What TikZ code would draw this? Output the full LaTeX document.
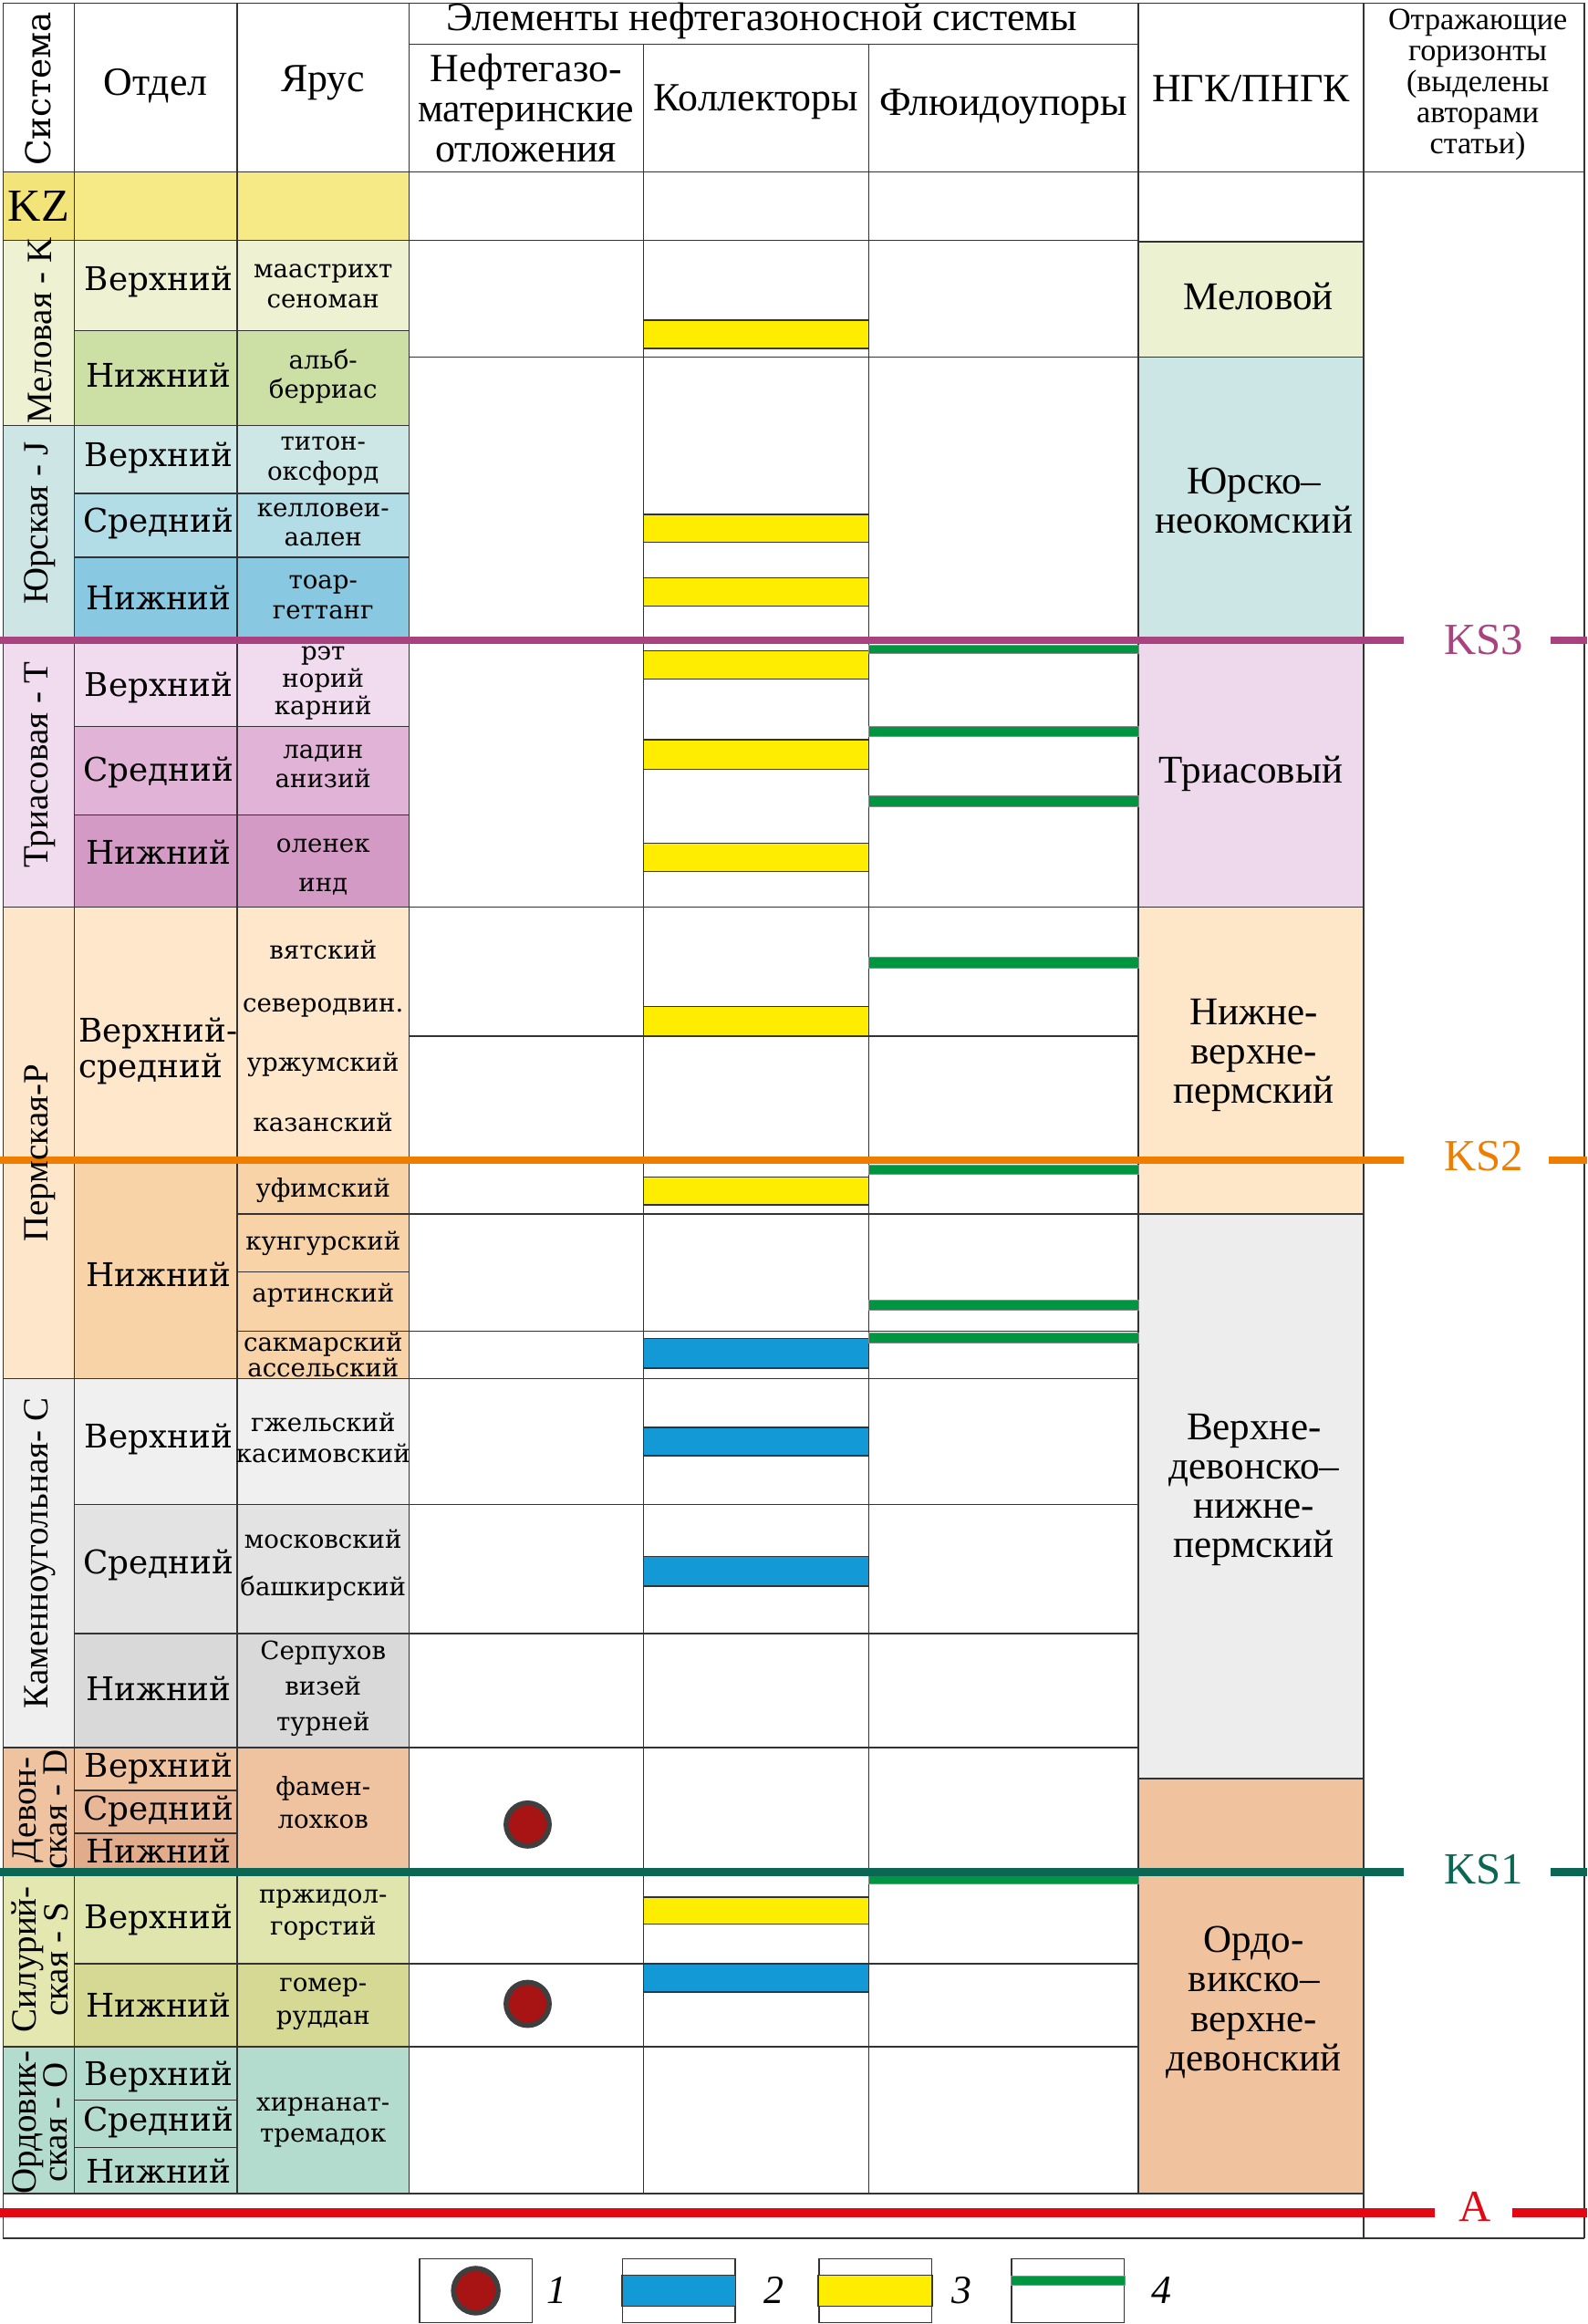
\documentclass[tikz,border=0pt]{standalone}
\usepackage{fontspec}
\setmainfont{Liberation Serif}
\newfontfamily\stagefont{DejaVu Serif}
\usetikzlibrary{positioning}

\definecolor{linegray}{HTML}{333333}
\definecolor{kzsys}{HTML}{F3E47A}
\definecolor{kzdiv}{HTML}{F6EA86}
\definecolor{ksys}{HTML}{EEF2D3}
\definecolor{kup}{HTML}{EEF1D2}
\definecolor{klow}{HTML}{CCDFA5}
\definecolor{jsys}{HTML}{CDE6E5}
\definecolor{jup}{HTML}{CDE7E7}
\definecolor{jmid}{HTML}{B2DCE6}
\definecolor{jlow}{HTML}{89C8E1}
\definecolor{tsys}{HTML}{F1DCEF}
\definecolor{tup}{HTML}{F1DBEF}
\definecolor{tmid}{HTML}{E1B3D7}
\definecolor{tlow}{HTML}{D49AC6}
\definecolor{psys}{HTML}{FDE6CA}
\definecolor{pup}{HTML}{FEE7CB}
\definecolor{plow}{HTML}{F8D3A7}
\definecolor{csys}{HTML}{EEEFEE}
\definecolor{cup}{HTML}{EFF0EF}
\definecolor{cmid}{HTML}{E3E3E3}
\definecolor{clow}{HTML}{D9D9D9}
\definecolor{dsys}{HTML}{EFC3A0}
\definecolor{dmid}{HTML}{E8B797}
\definecolor{dlow}{HTML}{E0AC8B}
\definecolor{ssys}{HTML}{E5E7B1}
\definecolor{sup}{HTML}{E0E5AD}
\definecolor{slow}{HTML}{D5D994}
\definecolor{osys}{HTML}{B4DCCE}
\definecolor{ngkK}{HTML}{EBF1D1}
\definecolor{ngkJ}{HTML}{CCE5E5}
\definecolor{ngkT}{HTML}{EED8EC}
\definecolor{ngkP}{HTML}{FEE6C9}
\definecolor{ngkC}{HTML}{ECEDEC}
\definecolor{ngkO}{HTML}{F0C39E}
\definecolor{resyellow}{HTML}{FFED00}
\definecolor{resblue}{HTML}{1399D6}
\definecolor{sealgreen}{HTML}{009641}
\definecolor{ksthree}{HTML}{A9437F}
\definecolor{kstwo}{HTML}{EE7D00}
\definecolor{ksone}{HTML}{0B6654}
\definecolor{hora}{HTML}{E30613}
\definecolor{srcred}{HTML}{A81414}
\definecolor{dotgray}{HTML}{3F3F3F}

\tikzset{
    rule/.style = {
        draw=linegray,
        line width=0.9pt
    },
    cell/.style = {
        draw=linegray,
        line width=0.9pt
    },
    reservoir/.style = {
        draw=linegray,
        line width=0.9pt,
        fill=resyellow
    },
    carbonate/.style = {
        draw=linegray,
        line width=0.9pt,
        fill=resblue
    },
    seal/.style = {
        draw=black!45,
        line width=0.4pt,
        fill=sealgreen
    },
    source/.style = {
        shape=circle,
        draw=dotgray,
        fill=srcred,
        line width=3.5pt,
        minimum size=29pt,
        inner sep=0pt
    },
    headtext/.style = {
        font=\fontsize{27}{27}\selectfont,
        align=center,
        inner sep=0pt
    },
    smalltext/.style = {
        font=\fontsize{21}{21}\selectfont,
        align=center,
        inner sep=0pt
    },
    systext/.style = {
        rotate=90,
        font=\fontsize{24}{21}\selectfont,
        align=center,
        inner sep=0pt
    },
    divtext/.style = {
        font=\stagefont\fontsize{22}{24}\selectfont,
        inner sep=0pt
    },
    stagetext/.style = {
        font=\stagefont\fontsize{17}{20}\selectfont,
        align=center,
        inner sep=0pt
    },
    ngktext/.style = {
        font=\fontsize{26.5}{26.5}\selectfont,
        align=center,
        inner sep=0pt
    },
    horizon/.style = {
        font=\fontsize{30}{30}\selectfont,
        inner sep=0pt
    },
    legbox/.style = {
        draw=linegray,
        line width=0.9pt,
        minimum width=76pt,
        minimum height=43pt,
        inner sep=0pt
    },
    legnum/.style = {
        font=\itshape\fontsize{27}{27}\selectfont,
        inner sep=0pt
    }
}

\begin{document}
\begin{tikzpicture}[x=1pt, y=-1pt]
    \useasboundingbox (0,0) rectangle (1071,1568);

    % header
    \draw[rule] (2,2) rectangle (1069,116);
    \draw[rule] (276,30) -- (768,30);
    \draw[rule] (2,2) -- (2,1510);
    \draw[rule] (50,2) -- (50,116);
    \draw[rule] (160,2) -- (160,116);
    \draw[rule] (276,2) -- (276,1480);
    \draw[rule] (434,30) -- (434,1480);
    \draw[rule] (586,30) -- (586,1480);
    \draw[rule] (768,2) -- (768,1480);
    \draw[rule] (920,2) -- (920,1510);
    \draw[rule] (1069,2) -- (1069,1510);

    % stratigraphy columns
    \path[cell, fill=kzsys] (2,116) rectangle (50,162);
    \path[cell, fill=kzdiv] (50,116) rectangle (160,162);
    \path[cell, fill=kzdiv] (160,116) rectangle (276,162);

    \path[cell, fill=ksys] (2,162) rectangle (50,287);
    \path[cell, fill=kup] (50,162) rectangle (160,223);
    \path[cell, fill=kup] (160,162) rectangle (276,223);
    \path[cell, fill=klow] (50,223) rectangle (160,287);
    \path[cell, fill=klow] (160,223) rectangle (276,287);

    \path[cell, fill=jsys] (2,287) rectangle (50,432);
    \path[cell, fill=jup] (50,287) rectangle (160,333);
    \path[cell, fill=jup] (160,287) rectangle (276,333);
    \path[cell, fill=jmid] (50,333) rectangle (160,376);
    \path[cell, fill=jmid] (160,333) rectangle (276,376);
    \path[cell, fill=jlow] (50,376) rectangle (160,432);
    \path[cell, fill=jlow] (160,376) rectangle (276,432);

    \path[cell, fill=tsys] (2,432) rectangle (50,612);
    \path[cell, fill=tup] (50,432) rectangle (160,490);
    \path[cell, fill=tup] (160,432) rectangle (276,490);
    \path[cell, fill=tmid] (50,490) rectangle (160,550);
    \path[cell, fill=tmid] (160,490) rectangle (276,550);
    \path[cell, fill=tlow] (50,550) rectangle (160,612);
    \path[cell, fill=tlow] (160,550) rectangle (276,612);

    \path[cell, fill=psys] (2,612) rectangle (50,930);
    \path[cell, fill=pup] (50,612) rectangle (160,785);
    \path[cell, fill=pup] (160,612) rectangle (276,785);
    \path[cell, fill=plow] (50,785) rectangle (160,930);
    \path[cell, fill=plow] (160,785) rectangle (276,819);
    \path[cell, fill=plow] (160,819) rectangle (276,858);
    \path[cell, fill=plow] (160,858) rectangle (276,898);
    \path[cell, fill=plow] (160,898) rectangle (276,930);

    \path[cell, fill=csys] (2,930) rectangle (50,1179);
    \path[cell, fill=cup] (50,930) rectangle (160,1015);
    \path[cell, fill=cup] (160,930) rectangle (276,1015);
    \path[cell, fill=cmid] (50,1015) rectangle (160,1102);
    \path[cell, fill=cmid] (160,1015) rectangle (276,1102);
    \path[cell, fill=clow] (50,1102) rectangle (160,1179);
    \path[cell, fill=clow] (160,1102) rectangle (276,1179);

    \path[cell, fill=dsys] (2,1179) rectangle (50,1263);
    \path[cell, fill=dsys] (50,1179) rectangle (160,1208);
    \path[cell, fill=dmid] (50,1208) rectangle (160,1237);
    \path[cell, fill=dlow] (50,1237) rectangle (160,1263);
    \path[cell, fill=dsys] (160,1179) rectangle (276,1263);

    \path[cell, fill=ssys] (2,1263) rectangle (50,1381);
    \path[cell, fill=sup] (50,1263) rectangle (160,1325);
    \path[cell, fill=sup] (160,1263) rectangle (276,1325);
    \path[cell, fill=slow] (50,1325) rectangle (160,1381);
    \path[cell, fill=slow] (160,1325) rectangle (276,1381);

    \path[cell, fill=osys] (2,1381) rectangle (50,1480);
    \path[cell, fill=osys] (50,1381) rectangle (160,1417);
    \path[cell, fill=osys] (50,1417) rectangle (160,1449);
    \path[cell, fill=osys] (50,1449) rectangle (160,1480);
    \path[cell, fill=osys] (160,1381) rectangle (276,1480);

    % petroleum system columns
    \draw[rule] (276,162) -- (768,162);
    \draw[rule] (276,241) -- (768,241);
    \draw[rule] (276,612) -- (768,612);
    \draw[rule] (276,699) -- (768,699);
    \draw[rule] (276,819) -- (768,819);
    \draw[rule] (276,898) -- (768,898);
    \draw[rule] (276,930) -- (768,930);
    \draw[rule] (276,1015) -- (768,1015);
    \draw[rule] (276,1102) -- (768,1102);
    \draw[rule] (276,1179) -- (768,1179);
    \draw[rule] (276,1325) -- (768,1325);
    \draw[rule] (276,1381) -- (768,1381);
    \draw[rule] (2,1480) -- (920,1480);
    \draw[rule] (2,1510) -- (1069,1510);

    \path[cell] (768,116) rectangle (920,163);
    \path[cell, fill=ngkK] (768,163) rectangle (920,241);
    \path[cell, fill=ngkJ] (768,241) rectangle (920,432);
    \path[cell, fill=ngkT] (768,432) rectangle (920,612);
    \path[cell, fill=ngkP] (768,612) rectangle (920,819);
    \path[cell, fill=ngkC] (768,819) rectangle (920,1200);
    \path[cell, fill=ngkO] (768,1200) rectangle (920,1480);

    % reservoirs
    \path[reservoir] (434,216) rectangle (586,235);
    \path[reservoir] (434,347) rectangle (586,366);
    \path[reservoir] (434,390) rectangle (586,409);
    \path[reservoir] (434,439) rectangle (586,458);
    \path[reservoir] (434,499) rectangle (586,519);
    \path[reservoir] (434,569) rectangle (586,588);
    \path[reservoir] (434,679) rectangle (586,699);
    \path[reservoir] (434,794) rectangle (586,813);
    \path[carbonate] (434,903) rectangle (586,923);
    \path[carbonate] (434,963) rectangle (586,982);
    \path[carbonate] (434,1050) rectangle (586,1070);
    \path[reservoir] (434,1280) rectangle (586,1298);
    \path[carbonate] (434,1325) rectangle (586,1344);

    % seals
    \path[seal] (586,435) rectangle (768,441);
    \path[seal] (586,490) rectangle (768,497);
    \path[seal] (586,537) rectangle (768,544);
    \path[seal] (586,646) rectangle (768,653);
    \path[seal] (586,786) rectangle (768,792);
    \path[seal] (586,877) rectangle (768,884);
    \path[seal] (586,899) rectangle (768,906);
    \path[seal] (586,1265) rectangle (768,1271);

    % source rocks
    \node[source] (src1) at (356,1231) {};
    \node[source] (src2) at (356,1352) {};

    % reflecting horizons
    \node[horizon, text=ksthree] (ks3) at (1001,432) {KS3};
    \node[horizon, text=kstwo] (ks2) at (1001,780) {KS2};
    \node[horizon, text=ksone] (ks1) at (1001,1261) {KS1};
    \node[horizon, text=hora] (hA) at (995,1489) {A};
    \coordinate (ks3l) at (0,432);
    \coordinate (ks3r) at (1071,432);
    \coordinate (ks2l) at (0,783);
    \coordinate (ks2r) at (1071,783);
    \coordinate (ks1l) at (0,1263);
    \coordinate (ks1r) at (1071,1263);
    \coordinate (hAl) at (0,1493);
    \coordinate (hAr) at (1071,1493);
    \draw[ksthree, line width=5.5pt] (ks3l) -- ([xshift=-27pt]ks3.west |- ks3l);
    \draw[ksthree, line width=5.5pt] ([xshift=18pt]ks3.east |- ks3r) -- (ks3r);
    \draw[kstwo, line width=5pt] (ks2l) -- ([xshift=-27pt]ks2.west |- ks2l);
    \draw[kstwo, line width=5pt] ([xshift=17pt]ks2.east |- ks2r) -- (ks2r);
    \draw[ksone, line width=6pt] (ks1l) -- ([xshift=-27pt]ks1.west |- ks1l);
    \draw[ksone, line width=6pt] ([xshift=18pt]ks1.east |- ks1r) -- (ks1r);
    \draw[hora, line width=6pt] (hAl) -- ([xshift=-16pt]hA.west |- hAl);
    \draw[hora, line width=6pt] ([xshift=14pt]hA.east |- hAr) -- (hAr);

    % header texts
    \node[rotate=90, font=\stagefont\fontsize{23}{23}\selectfont, inner sep=0pt] (hsys) at (26,60) {Система};
    \node[headtext] (hdiv) at (105,58) {Отдел};
    \node[headtext] (hstage) at (218,56) {Ярус};
    \node[headtext] (helem) at (514,14) {Элементы нефтегазоносной системы};
    \node[headtext] (hsrc) at (355,73) {Нефтегазо-\\материнские\\отложения};
    \node[headtext] (hres) at (510,69) {Коллекторы};
    \node[headtext] (hseal) at (677,72) {Флюидоупоры};
    \node[headtext] (hngk) at (844,60) {НГК/ПНГК};
    \node[smalltext] (hhor) at (997,57) {Отражающие\\горизонты\\(выделены\\авторами\\статьи)};

    % systems
    \node[font=\fontsize{31}{31}\selectfont, inner sep=0pt] (sysKZ) at (26,139) {KZ};
    \node[systext] (sysK) at (27,223) {Меловая - K};
    \node[systext] (sysJ) at (27,353) {Юрская - J};
    \node[systext] (sysT) at (27,516) {Триасовая - T};
    \node[systext] (sysP) at (27,778) {Пермская-P};
    \node[systext] (sysC) at (27,1048) {Каменноугольная- C};
    \node[systext] (sysD) at (27,1221) {Девон-\\ская - D};
    \node[systext] (sysS) at (27,1322) {Силурий-\\ская - S};
    \node[systext] (sysO) at (27,1432) {Ордовик-\\ская - O};

    % divisions
    \node[divtext] (divK1) at (107,190) {Верхний};
    \node[divtext] (divK2) at (107,253) {Нижний};
    \node[divtext] (divJ1) at (107,309) {Верхний};
    \node[divtext] (divJ2) at (107,353) {Средний};
    \node[divtext] (divJ3) at (107,403) {Нижний};
    \node[divtext] (divT1) at (107,464) {Верхний};
    \node[divtext] (divT2) at (107,521) {Средний};
    \node[divtext] (divT3) at (107,575) {Нижний};
    \node[divtext, align=left, anchor=west] (divP1) at (53,709) {Верхний-\\средний};
    \node[divtext] (divP2) at (107,860) {Нижний};
    \node[divtext] (divC1) at (107,971) {Верхний};
    \node[divtext] (divC2) at (107,1056) {Средний};
    \node[divtext] (divC3) at (107,1139) {Нижний};
    \node[divtext] (divD1) at (107,1193) {Верхний};
    \node[divtext] (divD2) at (107,1222) {Средний};
    \node[divtext] (divD3) at (107,1249) {Нижний};
    \node[divtext] (divS1) at (107,1295) {Верхний};
    \node[divtext] (divS2) at (107,1353) {Нижний};
    \node[divtext] (divO1) at (107,1401) {Верхний};
    \node[divtext] (divO2) at (107,1432) {Средний};
    \node[divtext] (divO3) at (107,1465) {Нижний};

    % stages
    \node[stagetext] (stK1) at (218,193) {маастрихт\\сеноман};
    \node[stagetext] (stK2) at (218,254) {альб-\\берриас};
    \node[stagetext] (stJ1) at (218,311) {титон-\\оксфорд};
    \node[stagetext] (stJ2) at (218,354) {келловеи-\\аален};
    \node[stagetext] (stJ3) at (218,403) {тоар-\\геттанг};
    \node[stagetext, font=\stagefont\fontsize{17}{18.5}\selectfont] (stT1) at (218,461) {рэт\\норий\\карний};
    \node[stagetext] (stT2) at (218,517) {ладин\\анизий};
    \node[stagetext, font=\stagefont\fontsize{17}{26}\selectfont] (stT3) at (218,585) {оленек\\инд};
    \node[stagetext] (stP1) at (218,641) {вятский};
    \node[stagetext] (stP2) at (218,680) {северодвин.};
    \node[stagetext] (stP3) at (218,718) {уржумский};
    \node[stagetext] (stP4) at (218,757) {казанский};
    \node[stagetext] (stP5) at (218,803) {уфимский};
    \node[stagetext] (stP6) at (218,839) {кунгурский};
    \node[stagetext] (stP7) at (218,874) {артинский};
    \node[stagetext, font=\stagefont\fontsize{17}{16}\selectfont] (stP8) at (218,914) {сакмарский\\ассельский};
    \node[stagetext, font=\stagefont\fontsize{17}{21}\selectfont] (stC1) at (218,970) {гжельский\\касимовский};
    \node[stagetext, font=\stagefont\fontsize{17}{32}\selectfont] (stC2) at (218,1056) {московский\\башкирский};
    \node[stagetext, font=\stagefont\fontsize{17}{24}\selectfont] (stC3) at (218,1139) {Серпухов\\визей\\турней};
    \node[stagetext, font=\stagefont\fontsize{17}{22}\selectfont] (stD) at (218,1216) {фамен-\\лохков};
    \node[stagetext, font=\stagefont\fontsize{17}{21}\selectfont] (stS1) at (218,1292) {пржидол-\\горстий};
    \node[stagetext, font=\stagefont\fontsize{17}{22}\selectfont] (stS2) at (218,1352) {гомер-\\руддан};
    \node[stagetext, font=\stagefont\fontsize{17}{21}\selectfont] (stO) at (218,1432) {хирнанат-\\тремадок};

    % petroleum complexes
    \node[ngktext] (ngkK) at (849,200) {Меловой};
    \node[ngktext] (ngkJ) at (846,338) {Юрско--\\неокомский};
    \node[ngktext] (ngkT) at (844,522) {Триасовый};
    \node[ngktext] (ngkP) at (846,712) {Нижне-\\верхне-\\пермский};
    \node[ngktext] (ngkC) at (846,1005) {Верхне-\\девонско--\\нижне-\\пермский};
    \node[ngktext] (ngkO) at (846,1351) {Ордо-\\викско--\\верхне-\\девонский};

    % legend
    \node[legbox] (leg1) at (321,1545.5) {};
    \node[source, minimum size=30pt] (legdot) at (leg1) {};
    \node[legnum, right=9pt of leg1] (num1) {1};

    \node[legbox] (leg2) at (458,1545.5) {};
    \path[carbonate] (leg2.west |- 0,1535) rectangle (leg2.east |- 0,1556);
    \node[legnum, right=19pt of leg2] (num2) {2};

    \node[legbox] (leg3) at (590.5,1545.5) {};
    \path[reservoir] (leg3.west |- 0,1535) rectangle (leg3.east |- 0,1556);
    \node[legnum, right=13pt of leg3] (num3) {3};

    \node[legbox] (leg4) at (720.5,1545.5) {};
    \path[seal] (leg4.west |- 0,1535.5) rectangle (leg4.east |- 0,1541.5);
    \node[legnum, right=18pt of leg4] (num4) {4};
\end{tikzpicture}
\end{document}
